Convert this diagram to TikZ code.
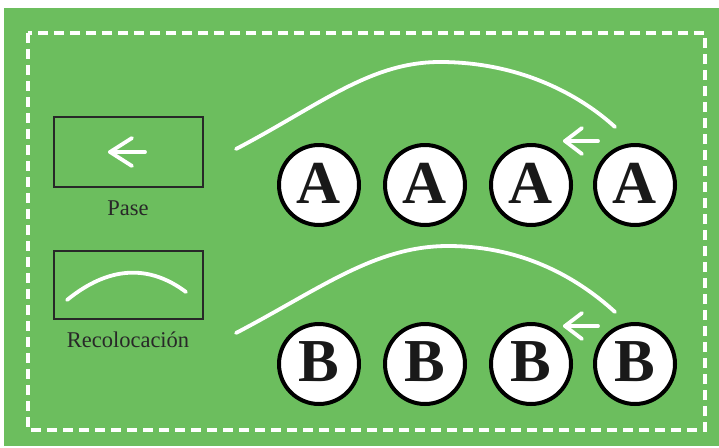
\documentclass[tikz,border=0pt]{standalone}
\usepackage{fontspec}
\setmainfont{Liberation Serif}
\definecolor{field}{RGB}{108,190,94}
\definecolor{ink}{RGB}{40,40,40}
\begin{document}
\begin{tikzpicture}[x=1pt,y=-1pt,
  player/.style={circle,draw=black,line width=4pt,fill=white,minimum size=80pt,inner sep=0pt},
  letter/.style={font=\fontsize{61}{61}\selectfont\bfseries,text=black!90,inner sep=0pt},
  legendbox/.style={draw=ink,line width=1.8pt},
  move/.style={draw=white,line width=3.8pt,line cap=round,line join=round},
  label/.style={font=\fontsize{22.5}{22.5}\selectfont,text=ink,inner sep=0pt,anchor=base}]
\useasboundingbox (0,0) rectangle (719,447);
\fill[white] (0,0) rectangle (719,447);
\fill[field] (4,8) rectangle (719,446);
\draw[white,line width=4.5pt,dash pattern=on 10pt off 6pt] (28,33) rectangle (705,430);
% legend
\draw[legendbox] (54,117) rectangle (203,187);
\coordinate (p1) at (145,152); \coordinate (p0) at (110,152);
\draw[move] (p1) -- (p0);
\draw[move] (132,138) -- (p0) -- (132,166);
\node[label] (pase) at (128,215) {Pase};
\draw[legendbox] (54,251) rectangle (203,319);
\coordinate (r0) at (67,300); \coordinate (r1) at (186,292);
\draw[move] (r0) .. controls (110,265) and (150,265) .. (r1);
\node[label] (reco) at (128,347) {Recolocación};
% players
\foreach \i/\x in {1/319,2/425,3/531,4/635}{
  \node[player] (a\i) at (\x,185) {};
  \node[letter] (la\i) at (\x,183) {A};
  \node[player] (b\i) at (\x,364) {};
  \node[letter] (lb\i) at (\x,362) {B};
}
% curves A
\coordinate (ca0) at (236,149); \coordinate (cap) at (440,62); \coordinate (ca1) at (615,127);
\draw[move] (ca0) .. controls (320,105) and (370,62) .. (cap) .. controls (520,62) and (580,95) .. (ca1);
\coordinate (aa1) at (598,141); \coordinate (aa0) at (565,141);
\draw[move] (aa1) -- (aa0);
\draw[move] (582,128) -- (aa0) -- (582,154);
% curves B
\coordinate (cb0) at (236,333); \coordinate (cbp) at (448,246); \coordinate (cb1) at (615,312);
\draw[move] (cb0) .. controls (320,289) and (375,246) .. (cbp) .. controls (525,246) and (580,280) .. (cb1);
\coordinate (ba1) at (598,326); \coordinate (ba0) at (565,326);
\draw[move] (ba1) -- (ba0);
\draw[move] (582,313) -- (ba0) -- (582,339);
\end{tikzpicture}
\end{document}
